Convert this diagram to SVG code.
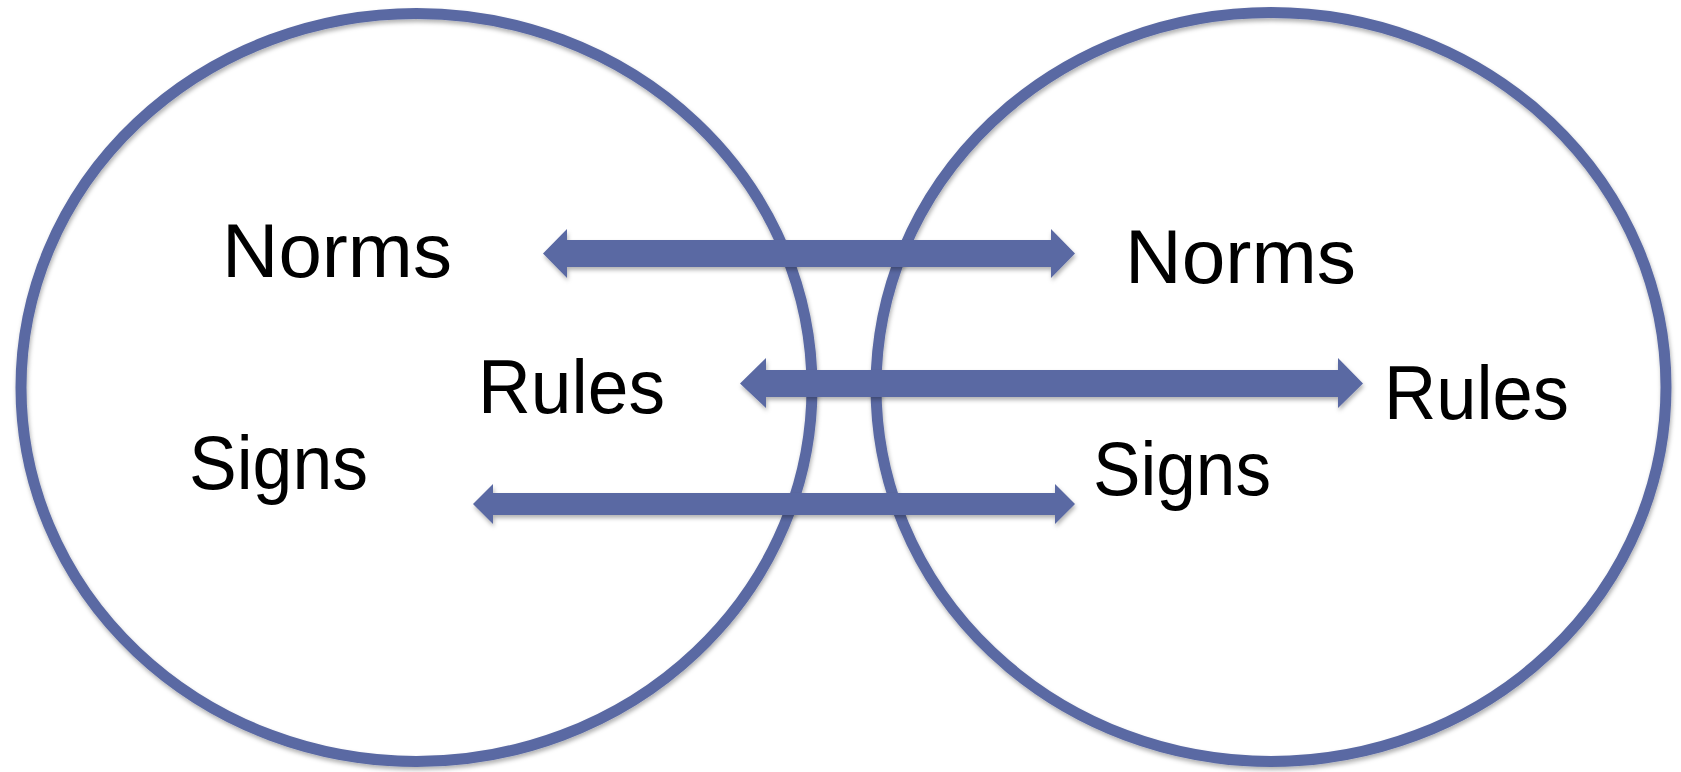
<svg xmlns="http://www.w3.org/2000/svg" width="1681" height="772" viewBox="0 0 1681 772">
  <style>
    .ring { fill: none; stroke: #5A69A3; stroke-width: 11; }
    .arrow { fill: #5A69A3; }
    .lbl { font-family: "Liberation Sans", Arial, sans-serif; font-size: 76px; fill: #000000; }
  </style>
  <defs>
    <filter id="shadow" x="-10%" y="-10%" width="120%" height="130%">
      <feDropShadow dx="1" dy="3" stdDeviation="2" flood-color="#000000" flood-opacity="0.3"/>
    </filter>
  </defs>
  <rect x="0" y="0" width="1681" height="772" fill="#ffffff"/>
  <g id="circle-left" filter="url(#shadow)">
    <ellipse class="ring" cx="416.5" cy="387.5" rx="395.5" ry="374"/>
  </g>
  <g id="circle-right" filter="url(#shadow)">
    <ellipse class="ring" cx="1271" cy="387" rx="395" ry="374.5"/>
  </g>
  <g id="connectors" filter="url(#shadow)">
    <polygon class="arrow" points="543,253.5 567,229 567,240 1051,240 1051,229 1075,253.5 1051,278 1051,267 567,267 567,278"/>
    <polygon class="arrow" points="740,383.5 766,358 766,370 1338,370 1338,358 1363,383.5 1338,408 1338,397 766,397 766,408"/>
    <polygon class="arrow" points="473,504 493,484 493,493 1055,493 1055,484 1075,504 1055,524 1055,515 493,515 493,524"/>
  </g>
  <g id="norms-left"><text class="lbl" x="222" y="277" textLength="230" lengthAdjust="spacingAndGlyphs">Norms</text></g>
  <g id="rules-left"><text class="lbl" x="478" y="413" textLength="187" lengthAdjust="spacingAndGlyphs">Rules</text></g>
  <g id="signs-left"><text class="lbl" x="189" y="489" textLength="179" lengthAdjust="spacingAndGlyphs">Signs</text></g>
  <g id="norms-right"><text class="lbl" x="1125" y="283" textLength="231" lengthAdjust="spacingAndGlyphs">Norms</text></g>
  <g id="rules-right"><text class="lbl" x="1384" y="419" textLength="185" lengthAdjust="spacingAndGlyphs">Rules</text></g>
  <g id="signs-right"><text class="lbl" x="1093" y="495" textLength="178" lengthAdjust="spacingAndGlyphs">Signs</text></g>
</svg>
